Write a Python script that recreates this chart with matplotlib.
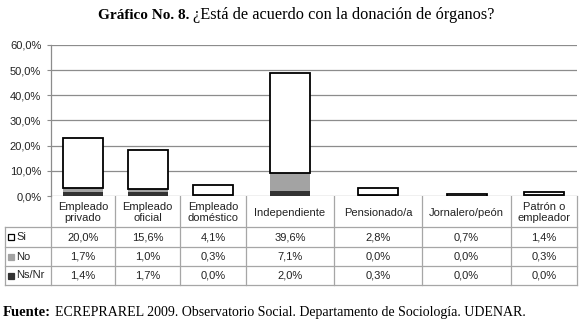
import matplotlib
matplotlib.use("Agg")
import matplotlib.pyplot as plt
from matplotlib.patches import Rectangle
from matplotlib.transforms import blended_transform_factory, IdentityTransform

# data
categories = ["Empleado\nprivado", "Empleado\noficial", "Empleado\ndoméstico",
              "Independiente", "Pensionado/a", "Jornalero/peón", "Patrón o\nempleador"]
si = [20.0, 15.6, 4.1, 39.6, 2.8, 0.7, 1.4]
no = [1.7, 1.0, 0.3, 7.1, 0.0, 0.0, 0.3]
nsnr = [1.4, 1.7, 0.0, 2.0, 0.3, 0.0, 0.0]
series_names = ["Si", "No", "Ns/Nr"]
yticks = [0, 10, 20, 30, 40, 50, 60]

# layout (pixels of the 580x321 picture)
W, H = 580, 321
col_edges = [51, 115, 180, 246, 334, 422, 511, 577]
row_lines = [196, 227, 247, 266, 285]
plot_top = 45
left_col = 5

SANS = "Liberation Sans"
SERIF = "Liberation Serif"
colors = {"Si": "white", "No": "#a3a3a3", "Ns/Nr": "#333333"}


def fmt(v):
    return f"{v:.1f}%".replace(".", ",")


fig = plt.figure(figsize=(W / 100, H / 100), dpi=100)

# background axes in pixel coords for table and text
bg = fig.add_axes([0, 0, 1, 1])
bg.set_xlim(0, W)
bg.set_ylim(H, 0)
bg.axis("off")

# chart axes
ax = fig.add_axes([col_edges[0] / W, 1 - row_lines[0] / H,
                   (col_edges[-1] - col_edges[0]) / W, (row_lines[0] - plot_top) / H])
centers = [(a + b) / 2 for a, b in zip(col_edges[:-1], col_edges[1:])]
ax.set_xlim(col_edges[0], col_edges[-1])
ax.set_ylim(0, 60)

bottom2 = [a + b for a, b in zip(nsnr, no)]
ax.bar(centers, nsnr, width=40, color=colors["Ns/Nr"], zorder=3)
ax.bar(centers, no, width=40, bottom=nsnr, color=colors["No"], zorder=3)
ax.bar(centers, si, width=40, bottom=bottom2, color=colors["Si"],
       edgecolor="black", linewidth=1.3, zorder=4)

ax.set_yticks(yticks)
ax.set_yticklabels([fmt(t) for t in yticks], fontsize=8, family=SANS, color="#222222")
ax.set_xticks([])
ax.grid(axis="y", color="#8c8c8c", linewidth=0.9, zorder=0)
ax.tick_params(axis="y", length=3, color="#8c8c8c", pad=4)
for s in ["top", "right", "bottom"]:
    ax.spines[s].set_visible(False)
ax.spines["left"].set_color("#8c8c8c")
ax.spines["left"].set_linewidth(0.9)

# table
lc = "#a6a6a6"
lw = 0.9
bg.plot([col_edges[0], col_edges[0]], [row_lines[0], row_lines[-1]], color=lc, lw=lw)
for x in col_edges[1:]:
    bg.plot([x, x], [row_lines[0], row_lines[-1]], color=lc, lw=lw)
bg.plot([left_col, left_col], [row_lines[1], row_lines[-1]], color=lc, lw=lw)
for y in row_lines[1:]:
    bg.plot([left_col, col_edges[-1]], [y, y], color=lc, lw=lw)

for c, name in zip(centers, categories):
    bg.text(c, (row_lines[0] + row_lines[1]) / 2 + 1, name, ha="center", va="center",
            fontsize=8, family=SANS, color="#222222", linespacing=1.1)

for i, (name, vals) in enumerate(zip(series_names, [si, no, nsnr])):
    yc = (row_lines[i + 1] + row_lines[i + 2]) / 2
    ec = "black" if name == "Si" else colors[name]
    bg.add_patch(Rectangle((8, yc - 3), 6, 6, facecolor=colors[name], edgecolor=ec, lw=0.9))
    bg.text(16, yc, name, ha="left", va="center", fontsize=8, family=SANS, color="#222222")
    for c, v in zip(centers, vals):
        bg.text(c, yc, fmt(v), ha="center", va="center", fontsize=8, family=SANS, color="#222222")

# title and source: bold part, then regular part right after it
fig.canvas.draw()
r = fig.canvas.get_renderer()
after = blended_transform_factory(IdentityTransform(), bg.transData)

tb = bg.text(98, 19, "Gráfico No. 8.", ha="left", va="baseline",
             fontsize=11, family=SERIF, fontweight="bold")
x1 = tb.get_window_extent(r).x1
bg.text(x1 + 4, 19, "¿Está de acuerdo con la donación de órganos?", ha="left", va="baseline",
        fontsize=11.8, family=SERIF, transform=after)

fb = bg.text(3, 316, "Fuente:", ha="left", va="baseline", fontsize=10.5, family=SERIF,
             fontweight="bold")
x1 = fb.get_window_extent(r).x1
bg.text(x1 + 4, 316, "ECREPRAREL 2009. Observatorio Social. Departamento de Sociología. UDENAR.",
        ha="left", va="baseline", fontsize=10, family=SERIF, transform=after)

fig.savefig("out.png", dpi=100)
